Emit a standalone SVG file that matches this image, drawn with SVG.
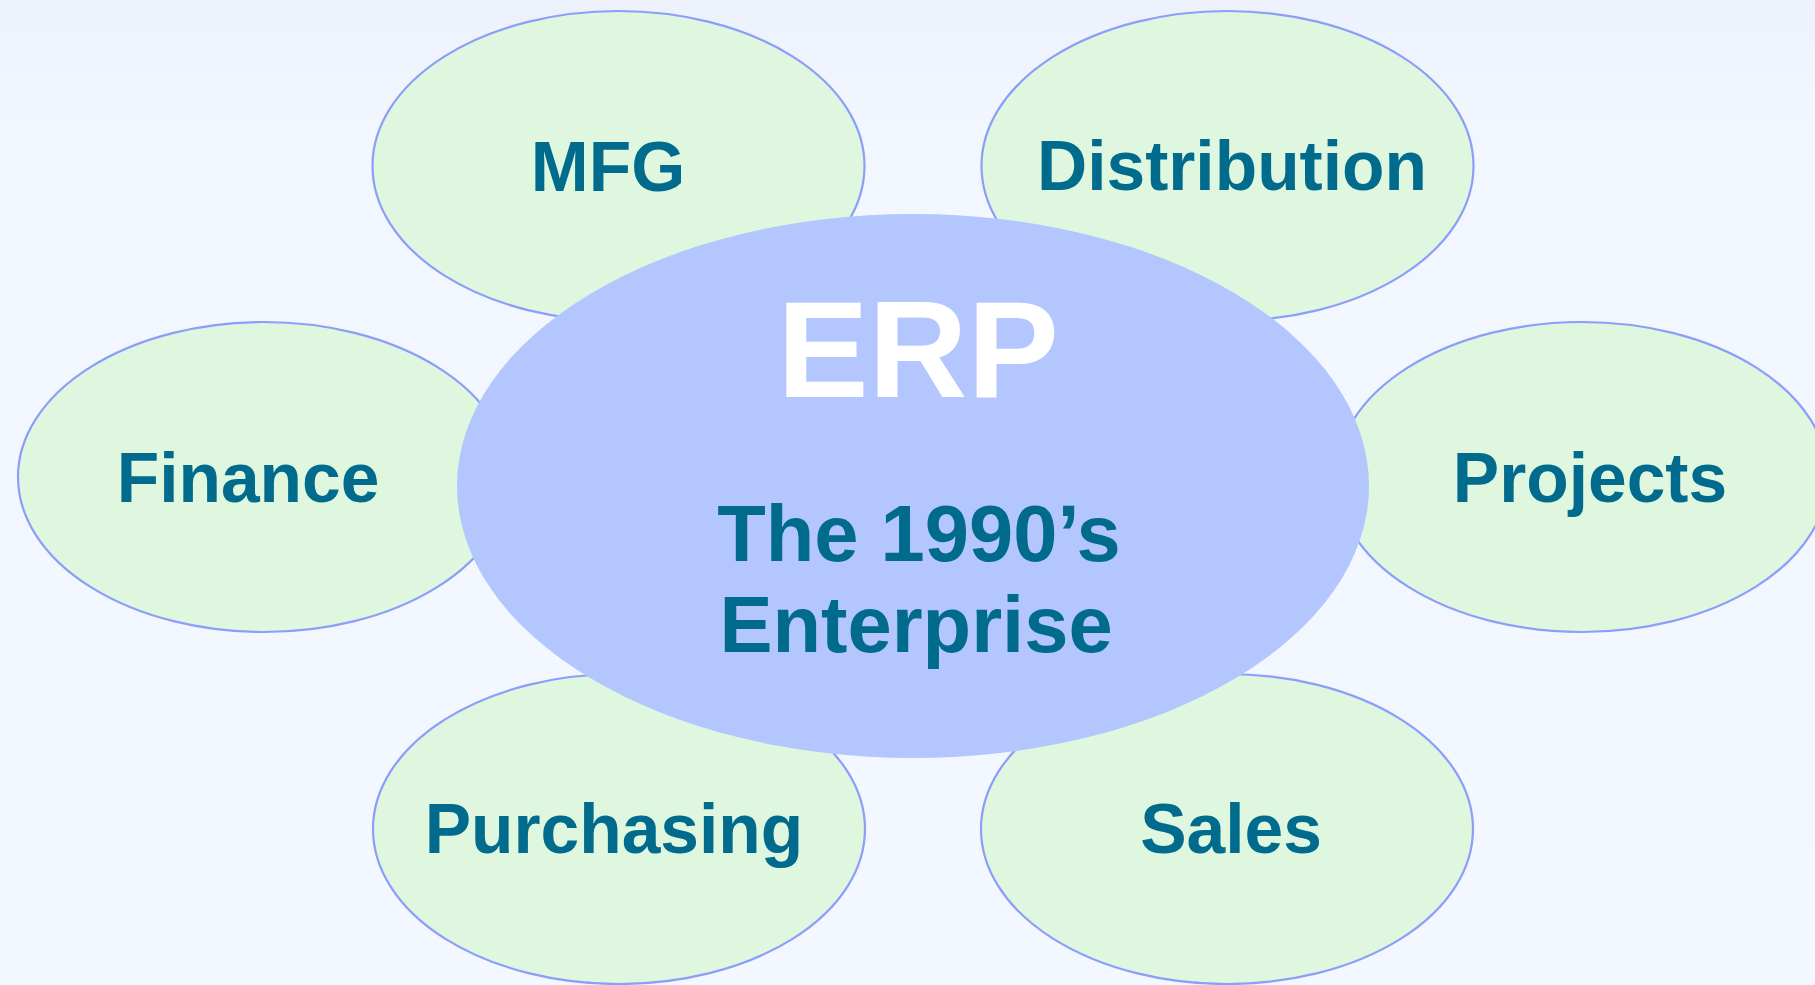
<svg xmlns="http://www.w3.org/2000/svg" width="1815" height="985" viewBox="0 0 1815 985">
  <defs>
    <linearGradient id="bg" x1="0" y1="0" x2="0" y2="985" gradientUnits="userSpaceOnUse">
      <stop offset="0" stop-color="#EDF1FC"/>
      <stop offset="0.12" stop-color="#F2F6FE"/>
      <stop offset="1" stop-color="#F3F7FF"/>
    </linearGradient>
  </defs>
  <style>
    .sat { fill: #DEF7DE; stroke: #8C9EFA; stroke-width: 2.2; }
    .hub { fill: #B4C6FE; stroke: none; }
    .lbl { font-family: "Liberation Sans", Arial, sans-serif; font-weight: bold; font-size: 69.5px; fill: #006B8D; text-anchor: middle; }
    .erp { font-family: "Liberation Sans", Arial, sans-serif; font-weight: bold; font-size: 137px; fill: #FFFFFF; text-anchor: middle; }
    .sub { font-family: "Liberation Sans", Arial, sans-serif; font-weight: bold; font-size: 79.5px; fill: #006B8D; text-anchor: middle; }
  </style>
  <rect x="0" y="0" width="1815" height="985" fill="url(#bg)"/>
  <g id="connectors"></g>
  <g id="mfg">
    <ellipse class="sat" cx="618.5" cy="166" rx="246" ry="155"/>
    <text class="lbl" x="608" y="191">MFG</text>
  </g>
  <g id="distribution">
    <ellipse class="sat" cx="1227.5" cy="166" rx="246" ry="155"/>
    <text class="lbl" x="1232" y="190">Distribution</text>
  </g>
  <g id="finance">
    <ellipse class="sat" cx="264" cy="477" rx="246" ry="155"/>
    <text class="lbl" x="248" y="502">Finance</text>
  </g>
  <g id="projects">
    <ellipse class="sat" cx="1582" cy="477" rx="246" ry="155"/>
    <text class="lbl" x="1590" y="502">Projects</text>
  </g>
  <g id="purchasing">
    <ellipse class="sat" cx="619" cy="829" rx="246" ry="155"/>
    <text class="lbl" x="614" y="853">Purchasing</text>
  </g>
  <g id="sales">
    <ellipse class="sat" cx="1227" cy="829" rx="246" ry="155"/>
    <text class="lbl" x="1231" y="853">Sales</text>
  </g>
  <g id="erp">
    <ellipse class="hub" cx="913" cy="486" rx="456" ry="272"/>
    <text class="erp" x="918" y="397">ERP</text>
    <text class="sub" x="919" y="561">The 1990’s</text>
    <text class="sub" x="916" y="652">Enterprise</text>
  </g>
</svg>
